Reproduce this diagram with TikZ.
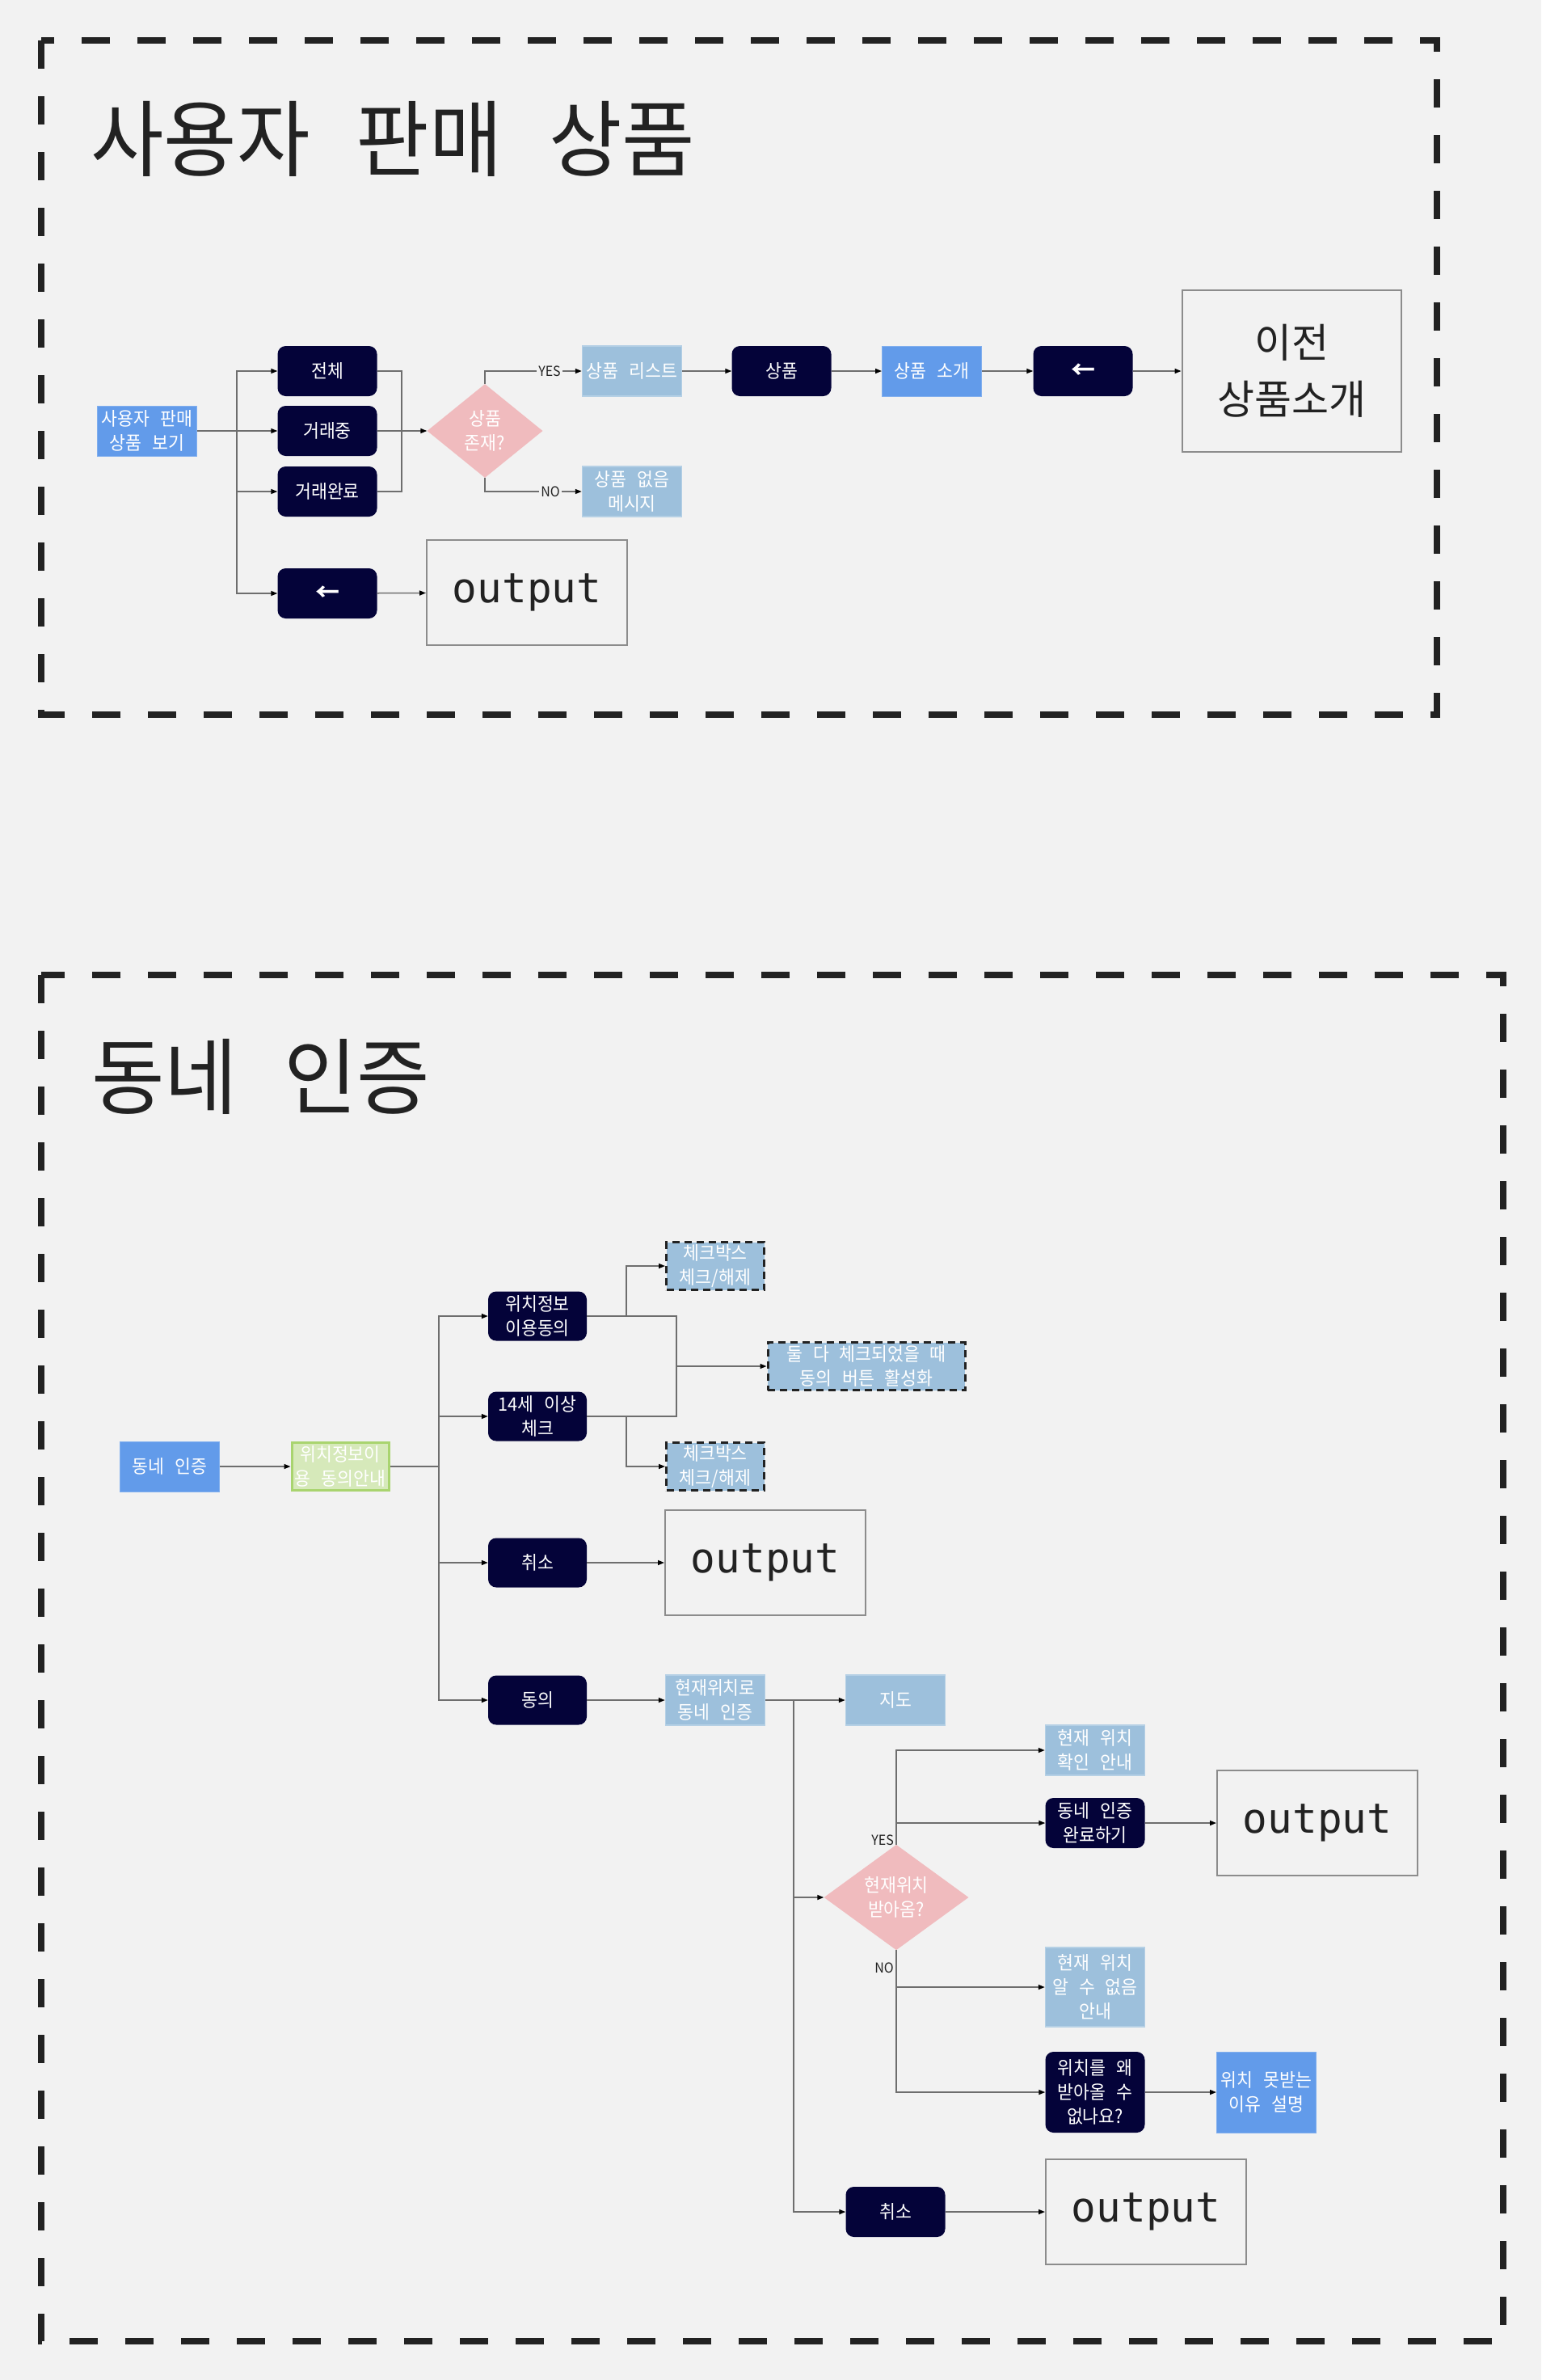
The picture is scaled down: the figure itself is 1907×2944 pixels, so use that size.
\documentclass[tikz,border=0pt]{standalone}
\usepackage{fontspec}
\setmainfont{Noto Sans CJK KR}[FakeStretch=0.94,WordSpace=2.6]
\newfontfamily\ttlf{Noto Sans CJK KR}[FakeStretch=0.955,WordSpace=2.6]
\newfontfamily\bigf{Noto Sans CJK KR}
\newfontfamily\monof{DejaVu Sans Mono}
\usetikzlibrary{arrows.meta,shapes.geometric}
\definecolor{bg}{HTML}{F2F2F2}
\definecolor{navy}{HTML}{040339}
\definecolor{cblue}{HTML}{629BEA}
\definecolor{lblue}{HTML}{9DC0DC}
\definecolor{pink}{HTML}{F0BBBE}
\definecolor{gfill}{HTML}{D6E9BA}
\definecolor{gline}{HTML}{A9D46F}
\definecolor{ink}{HTML}{222222}
\definecolor{connc}{HTML}{6E6E6E}
\definecolor{outline}{HTML}{8C8C8C}
\tikzset{
  base/.style={align=center, inner sep=0pt, text=white, font=\fontsize{23}{30}\selectfont},
  dark/.style={base, fill=navy, rounded corners=10pt, minimum width=123pt, minimum height=62pt},
  blu/.style={base, fill=cblue, draw=cblue!80!white, line width=1pt, minimum width=123pt, minimum height=62pt},
  lblu/.style={base, fill=lblue, draw=lblue!75!white, line width=1.5pt, minimum width=123pt, minimum height=62pt},
  grn/.style={base, fill=gfill, draw=gline, line width=3pt, minimum width=120pt, minimum height=59pt},
  chk/.style={base, fill=lblue, draw=ink, line width=3pt, dash pattern=on 9pt off 6pt, minimum width=121pt, minimum height=59pt},
  dia/.style={base, diamond, fill=pink, aspect=1},
  outbox/.style={draw=outline, line width=2pt, minimum width=248pt, minimum height=130pt, text=ink, font=\monof\fontsize{51}{51}\selectfont},
  conn/.style={draw=connc, line width=1.5pt},
  arr/.style={conn, -{Triangle[length=8pt,width=6pt,color=black]}},
  lbl/.style={inner sep=2pt, text=ink, font=\fontsize{17}{17}\selectfont},
  frame/.style={draw=ink, line width=8.5pt, dash pattern=on 35pt off 34pt},
  ttl/.style={inner sep=0pt, text=ink, font=\ttlf\fontsize{103}{110}\selectfont, anchor=base west},
  arrowtxt/.style={font=\bigf\fontsize{30}{30}\selectfont\bfseries}
}
\begin{document}
\begin{tikzpicture}[x=1pt,y=-1pt]
\fill[bg] (0,0) rectangle (1907,2944);
\useasboundingbox (0,0) rectangle (1907,2944);
% frames
\draw[frame] (51,50) rectangle (1778,884);
\draw[frame] (51,1206) rectangle (1860,2896);
% titles
\node[ttl] (t1) at (112,210) {사용자 판매 상품};
\node[ttl] (t2) at (113,1370) {동네 인증};

% ---------- section 1 ----------
\node[blu] (src) at (182,533) {사용자 판매\\상품 보기};
\node[dark] (all) at (405,459) {전체};
\node[dark] (ing) at (405,533) {거래중};
\node[dark] (done) at (405,608) {거래완료};
\node[dark, arrowtxt] (back1) at (405,734) {←};
\node[outbox] (out1) at (652,733) {output};
\node[dia, minimum width=143pt, minimum height=116pt] (q1) at (600,533) {상품\\존재?};
\node[lblu] (list) at (782,459) {상품 리스트};
\node[lblu] (none) at (782,608) {상품 없음\\메시지};
\node[dark] (item) at (967,459) {상품};
\node[blu] (intro) at (1153,459) {상품 소개};
\node[dark, arrowtxt] (back2) at (1340,459) {←};
\node[outbox, minimum width=271pt, minimum height=200pt, align=center, font=\bigf\fontsize{50}{70}\selectfont] (prev) at (1598,459) {이전\\상품소개};

\coordinate (b1) at (293,533);
\coordinate (m1) at (497,533);
\draw[conn] (src.east) -- (b1);
\draw[arr] (b1) |- (all.west);
\draw[arr] (b1) -- (ing.west);
\draw[arr] (b1) |- (done.west);
\draw[arr] (b1) |- (back1.west);
\draw[conn] (all.east) -| (m1);
\draw[conn] (done.east) -| (m1);
\draw[arr] (ing.east) -- (q1.west);
\draw[arr] (q1.north) |- (list.west);
\draw[arr] (q1.south) |- (none.west);
\node[lbl, fill=bg] (yes1) at (680,459) {YES};
\node[lbl, fill=bg] (no1) at (681,608) {NO};
\draw[arr] (list) -- (item);
\draw[arr] (item) -- (intro);
\draw[arr] (intro) -- (back2);
\draw[arr] (back2) -- (prev);
\draw[arr] (back1) -- (out1);

% ---------- section 2 ----------
\node[blu] (nb) at (210,1814) {동네 인증};
\node[grn] (guide) at (421,1814) {위치정보이\\용 동의안내};
\node[dark, minimum width=122pt, minimum height=61pt] (agree1) at (665,1628) {위치정보\\이용동의};
\node[dark, minimum width=122pt, minimum height=61pt] (age) at (665,1752) {14세 이상\\체크};
\node[dark, minimum width=122pt, minimum height=61pt] (cancel1) at (665,1933) {취소};
\node[dark, minimum width=122pt, minimum height=61pt] (ok) at (665,2103) {동의};
\node[chk] (cb1) at (885,1566) {체크박스\\체크/해제};
\node[chk] (cb2) at (885,1814) {체크박스\\체크/해제};
\node[chk, minimum width=244pt] (both) at (1072,1690) {둘 다 체크되었을 때\\동의 버튼 활성화};
\node[outbox] (out2) at (947,1933) {output};
\node[lblu] (cur) at (885,2103) {현재위치로\\동네 인증};
\node[lblu] (map) at (1108,2103) {지도};
\node[dia, minimum width=179pt, minimum height=122pt] (q2) at (1109,2347) {현재위치\\받아옴?};
\node[lblu] (curok) at (1355,2165) {현재 위치\\확인 안내};
\node[dark] (done2) at (1355,2255) {동네 인증\\완료하기};
\node[outbox] (out3) at (1630,2255) {output};
\node[lblu, minimum height=98pt] (curno) at (1355,2458) {현재 위치\\알 수 없음\\안내};
\node[dark, minimum height=100pt] (why) at (1355,2588) {위치를 왜\\받아올 수\\없나요?};
\node[blu, minimum height=100pt] (reason) at (1567,2588) {위치 못받는\\이유 설명};
\node[dark] (cancel2) at (1108,2736) {취소};
\node[outbox] (out4) at (1418,2736) {output};

\coordinate (b2) at (543,1814);
\draw[arr] (nb) -- (guide);
\draw[conn] (guide.east) -- (b2);
\draw[arr] (b2) |- (agree1.west);
\draw[arr] (b2) |- (age.west);
\draw[arr] (b2) |- (cancel1.west);
\draw[arr] (b2) |- (ok.west);
\coordinate (m2) at (837,1690);
\draw[conn] (agree1.east) -| (m2);
\draw[conn] (age.east) -| (m2);
\draw[arr] (m2) -- (both.west);
\coordinate (s1) at (775,1628);
\coordinate (s2) at (775,1752);
\draw[arr] (s1) |- (cb1.west);
\draw[arr] (s2) |- (cb2.west);
\draw[arr] (cancel1) -- (out2);
\draw[arr] (ok) -- (cur);
\coordinate (b3) at (982,2103);
\draw[arr] (cur.east) -- (map.west);
\draw[arr] (b3) |- (q2.west);
\draw[arr] (b3) |- (cancel2.west);
\draw[arr] (q2.north) |- (curok.west);
\draw[arr] (q2.north) |- (done2.west);
\draw[arr] (q2.south) |- (curno.west);
\draw[arr] (q2.south) |- (why.west);
\node[lbl, anchor=east, inner sep=1pt] (yes2) at (1107,2276) {YES};
\node[lbl, anchor=east, inner sep=1pt] (no2) at (1107,2434) {NO};
\draw[arr] (done2) -- (out3);
\draw[arr] (why) -- (reason);
\draw[arr] (cancel2) -- (out4);
\end{tikzpicture}
\end{document}
